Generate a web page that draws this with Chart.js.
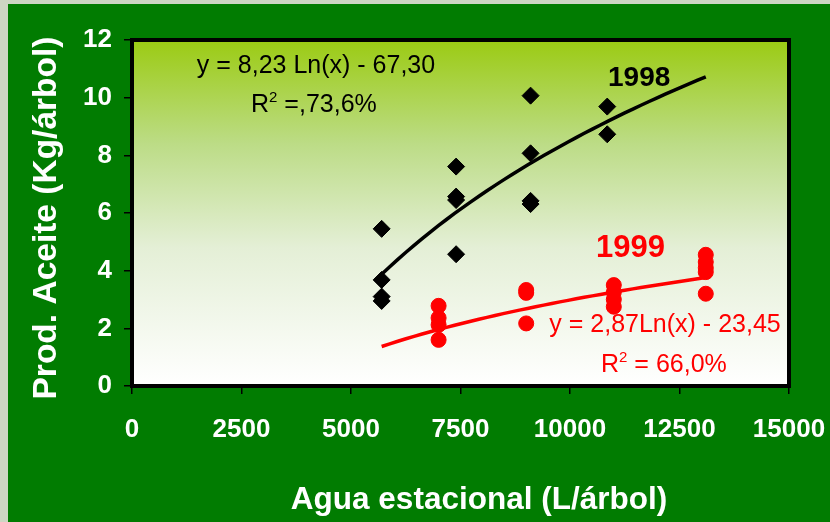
<!DOCTYPE html>
<html>
<head>
<meta charset="utf-8">
<title>Prod. Aceite vs Agua estacional</title>
<script src="https://cdn.jsdelivr.net/npm/chart.js@4.4.0/dist/chart.umd.min.js"></script>
<style>
  html, body { margin: 0; padding: 0; background: #cdd6c3; }
  canvas { display: block; }
</style>
</head>
<body>
<canvas id="chart" width="830" height="522"></canvas>
<script>
// Axis ticks
const xTicks = [0, 2500, 5000, 7500, 10000, 12500, 15000];
const yTicks = [0, 2, 4, 6, 8, 10, 12];

// 1998 campaign: seasonal water (L/tree) and oil yield (kg/tree)
const water1998 = [5700, 5700, 5700, 5700, 7400, 7400, 7400, 7400, 9100, 9100, 9100, 9100, 10850, 10850];
const oil1998   = [5.45, 3.68, 3.10, 2.95, 7.61, 6.57, 6.45, 4.57, 10.07, 8.07, 6.42, 6.31, 9.69, 8.73];

// 1999 campaign
const water1999 = [7000, 7000, 7000, 7000, 9000, 9000, 9000, 11000, 11000, 11000, 11000, 13100, 13100, 13100, 13100, 13100];
const oil1999   = [2.78, 2.36, 2.12, 1.60, 3.33, 3.23, 2.17, 3.50, 3.25, 3.00, 2.75, 4.55, 4.30, 4.10, 3.95, 3.20];

// Logarithmic fits  y = a·ln(x) + b  and the water range they cover
const fit1998 = [8.23, -67.30];
const fit1999 = [2.87, -23.45];
const fitRange = [5700, 13100];

const FONT = "'Liberation Sans', Arial, Helvetica, sans-serif";

function toPoints(xs, ys) {
  return xs.map((x, i) => ({ x: x, y: ys[i] }));
}

function fitCurve(coef) {
  const pts = [];
  const steps = 40;
  for (let i = 0; i <= steps; i++) {
    const x = fitRange[0] + (fitRange[1] - fitRange[0]) * i / steps;
    pts.push({ x: x, y: coef[0] * Math.log(x) + coef[1] });
  }
  return pts;
}

// Text with a superscript "2" after the leading "R"
function drawR2(ctx, x, y, rest, size, color) {
  ctx.fillStyle = color;
  ctx.textAlign = 'left';
  ctx.textBaseline = 'alphabetic';
  ctx.font = size + 'px ' + FONT;
  ctx.fillText('R', x, y);
  let cx = x + ctx.measureText('R').width;
  ctx.font = Math.round(size * 0.6) + 'px ' + FONT;
  ctx.fillText('2', cx, y - size * 0.4);
  cx += ctx.measureText('2').width;
  ctx.font = size + 'px ' + FONT;
  ctx.fillText(rest, cx, y);
}

const decorations = {
  id: 'decorations',
  beforeDraw(chart) {
    const ctx = chart.ctx;
    const a = chart.chartArea;
    ctx.save();
    ctx.fillStyle = '#cdd6c3';
    ctx.fillRect(0, 0, chart.width, chart.height);
    ctx.fillStyle = '#017c01';
    ctx.fillRect(8, 4, chart.width - 8, chart.height - 4);
    const g = ctx.createLinearGradient(0, a.top, 0, a.bottom);
    g.addColorStop(0, '#9bcb13');
    g.addColorStop(0.3, '#bcdc86');
    g.addColorStop(0.6, '#e4efd6');
    g.addColorStop(1, '#ffffff');
    ctx.fillStyle = g;
    ctx.fillRect(a.left, a.top, a.right - a.left, a.bottom - a.top);
    ctx.restore();
  },
  beforeDatasetsDraw(chart) {
    const ctx = chart.ctx;
    const a = chart.chartArea;
    ctx.save();
    ctx.strokeStyle = '#000';
    ctx.lineWidth = 4;
    ctx.strokeRect(a.left, a.top, a.right - a.left, a.bottom - a.top);
    ctx.restore();
  },
  afterDraw(chart) {
    const ctx = chart.ctx;
    ctx.save();

    // Axis titles
    ctx.fillStyle = '#ffffff';
    ctx.font = 'bold 31.5px ' + FONT;
    ctx.textAlign = 'center';
    ctx.textBaseline = 'alphabetic';
    ctx.fillText('Agua estacional (L/árbol)', 479, 509);

    ctx.save();
    ctx.translate(56, 218);
    ctx.rotate(-Math.PI / 2);
    ctx.font = 'bold 33.5px ' + FONT;
    ctx.fillText('Prod. Aceite (Kg/árbol)', 0, 0);
    ctx.restore();

    // 1998 fit annotation
    ctx.fillStyle = '#000';
    ctx.font = '25px ' + FONT;
    ctx.textAlign = 'center';
    ctx.fillText('y = 8,23 Ln(x) - 67,30', 316, 73);
    drawR2(ctx, 251, 112, ' =,73,6%', 25, '#000');
    ctx.font = 'bold 28px ' + FONT;
    ctx.textAlign = 'left';
    ctx.fillText('1998', 608, 86);

    // 1999 fit annotation
    ctx.fillStyle = '#ff0000';
    ctx.font = 'bold 31px ' + FONT;
    ctx.textAlign = 'left';
    ctx.fillText('1999', 596, 257);
    ctx.font = '25px ' + FONT;
    ctx.textAlign = 'center';
    ctx.fillText('y = 2,87Ln(x) - 23,45', 665, 332);
    drawR2(ctx, 601, 372, ' = 66,0%', 25, '#ff0000');

    ctx.restore();
  }
};

const tickFont = { family: FONT, size: 26, weight: 'bold' };

new Chart(document.getElementById('chart'), {
  type: 'scatter',
  data: {
    datasets: [
      {
        label: '1998',
        data: toPoints(water1998, oil1998),
        pointStyle: 'rectRot',
        pointRadius: 8.5,
        backgroundColor: '#000',
        borderColor: '#000',
        borderWidth: 1,
        order: 2
      },
      {
        label: '1999',
        data: toPoints(water1999, oil1999),
        pointStyle: 'circle',
        pointRadius: 7.5,
        backgroundColor: '#ff0000',
        borderColor: '#ff0000',
        borderWidth: 1,
        order: 2
      },
      {
        label: 'Log. 1998',
        data: fitCurve(fit1998),
        showLine: true,
        pointRadius: 0,
        borderColor: '#000',
        borderWidth: 3.5,
        order: 1
      },
      {
        label: 'Log. 1999',
        data: fitCurve(fit1999),
        showLine: true,
        pointRadius: 0,
        borderColor: '#ff0000',
        borderWidth: 3.5,
        order: 1
      }
    ]
  },
  options: {
    responsive: false,
    animation: false,
    devicePixelRatio: 1,
    layout: { padding: { left: 0, top: 40, right: 41, bottom: 0 } },
    plugins: {
      legend: { display: false },
      tooltip: { enabled: false }
    },
    scales: {
      x: {
        type: 'linear',
        min: xTicks[0],
        max: xTicks[xTicks.length - 1],
        afterBuildTicks(scale) { scale.ticks = xTicks.map(v => ({ value: v })); },
        afterFit(scale) {
          scale.height = 136;
          scale.paddingLeft = 0;
          scale.paddingRight = 0;
        },
        ticks: {
          color: '#ffffff', font: tickFont, padding: 20, maxRotation: 0, autoSkip: false,
          callback: (v) => String(v)
        },
        grid: { display: true, drawOnChartArea: false, drawTicks: true, tickLength: 8, color: '#000', lineWidth: 1.5 },
        border: { display: false }
      },
      y: {
        type: 'linear',
        min: yTicks[0],
        max: yTicks[yTicks.length - 1],
        afterBuildTicks(scale) { scale.ticks = yTicks.map(v => ({ value: v })); },
        afterFit(scale) {
          scale.width = 132;
          scale.paddingTop = 0;
          scale.paddingBottom = 0;
        },
        ticks: { color: '#ffffff', font: tickFont, padding: 12, callback: (v) => String(v) },
        grid: { display: true, drawOnChartArea: false, drawTicks: true, tickLength: 8, color: '#000', lineWidth: 1.5 },
        border: { display: false }
      }
    }
  },
  plugins: [decorations]
});
</script>
</body>
</html>
